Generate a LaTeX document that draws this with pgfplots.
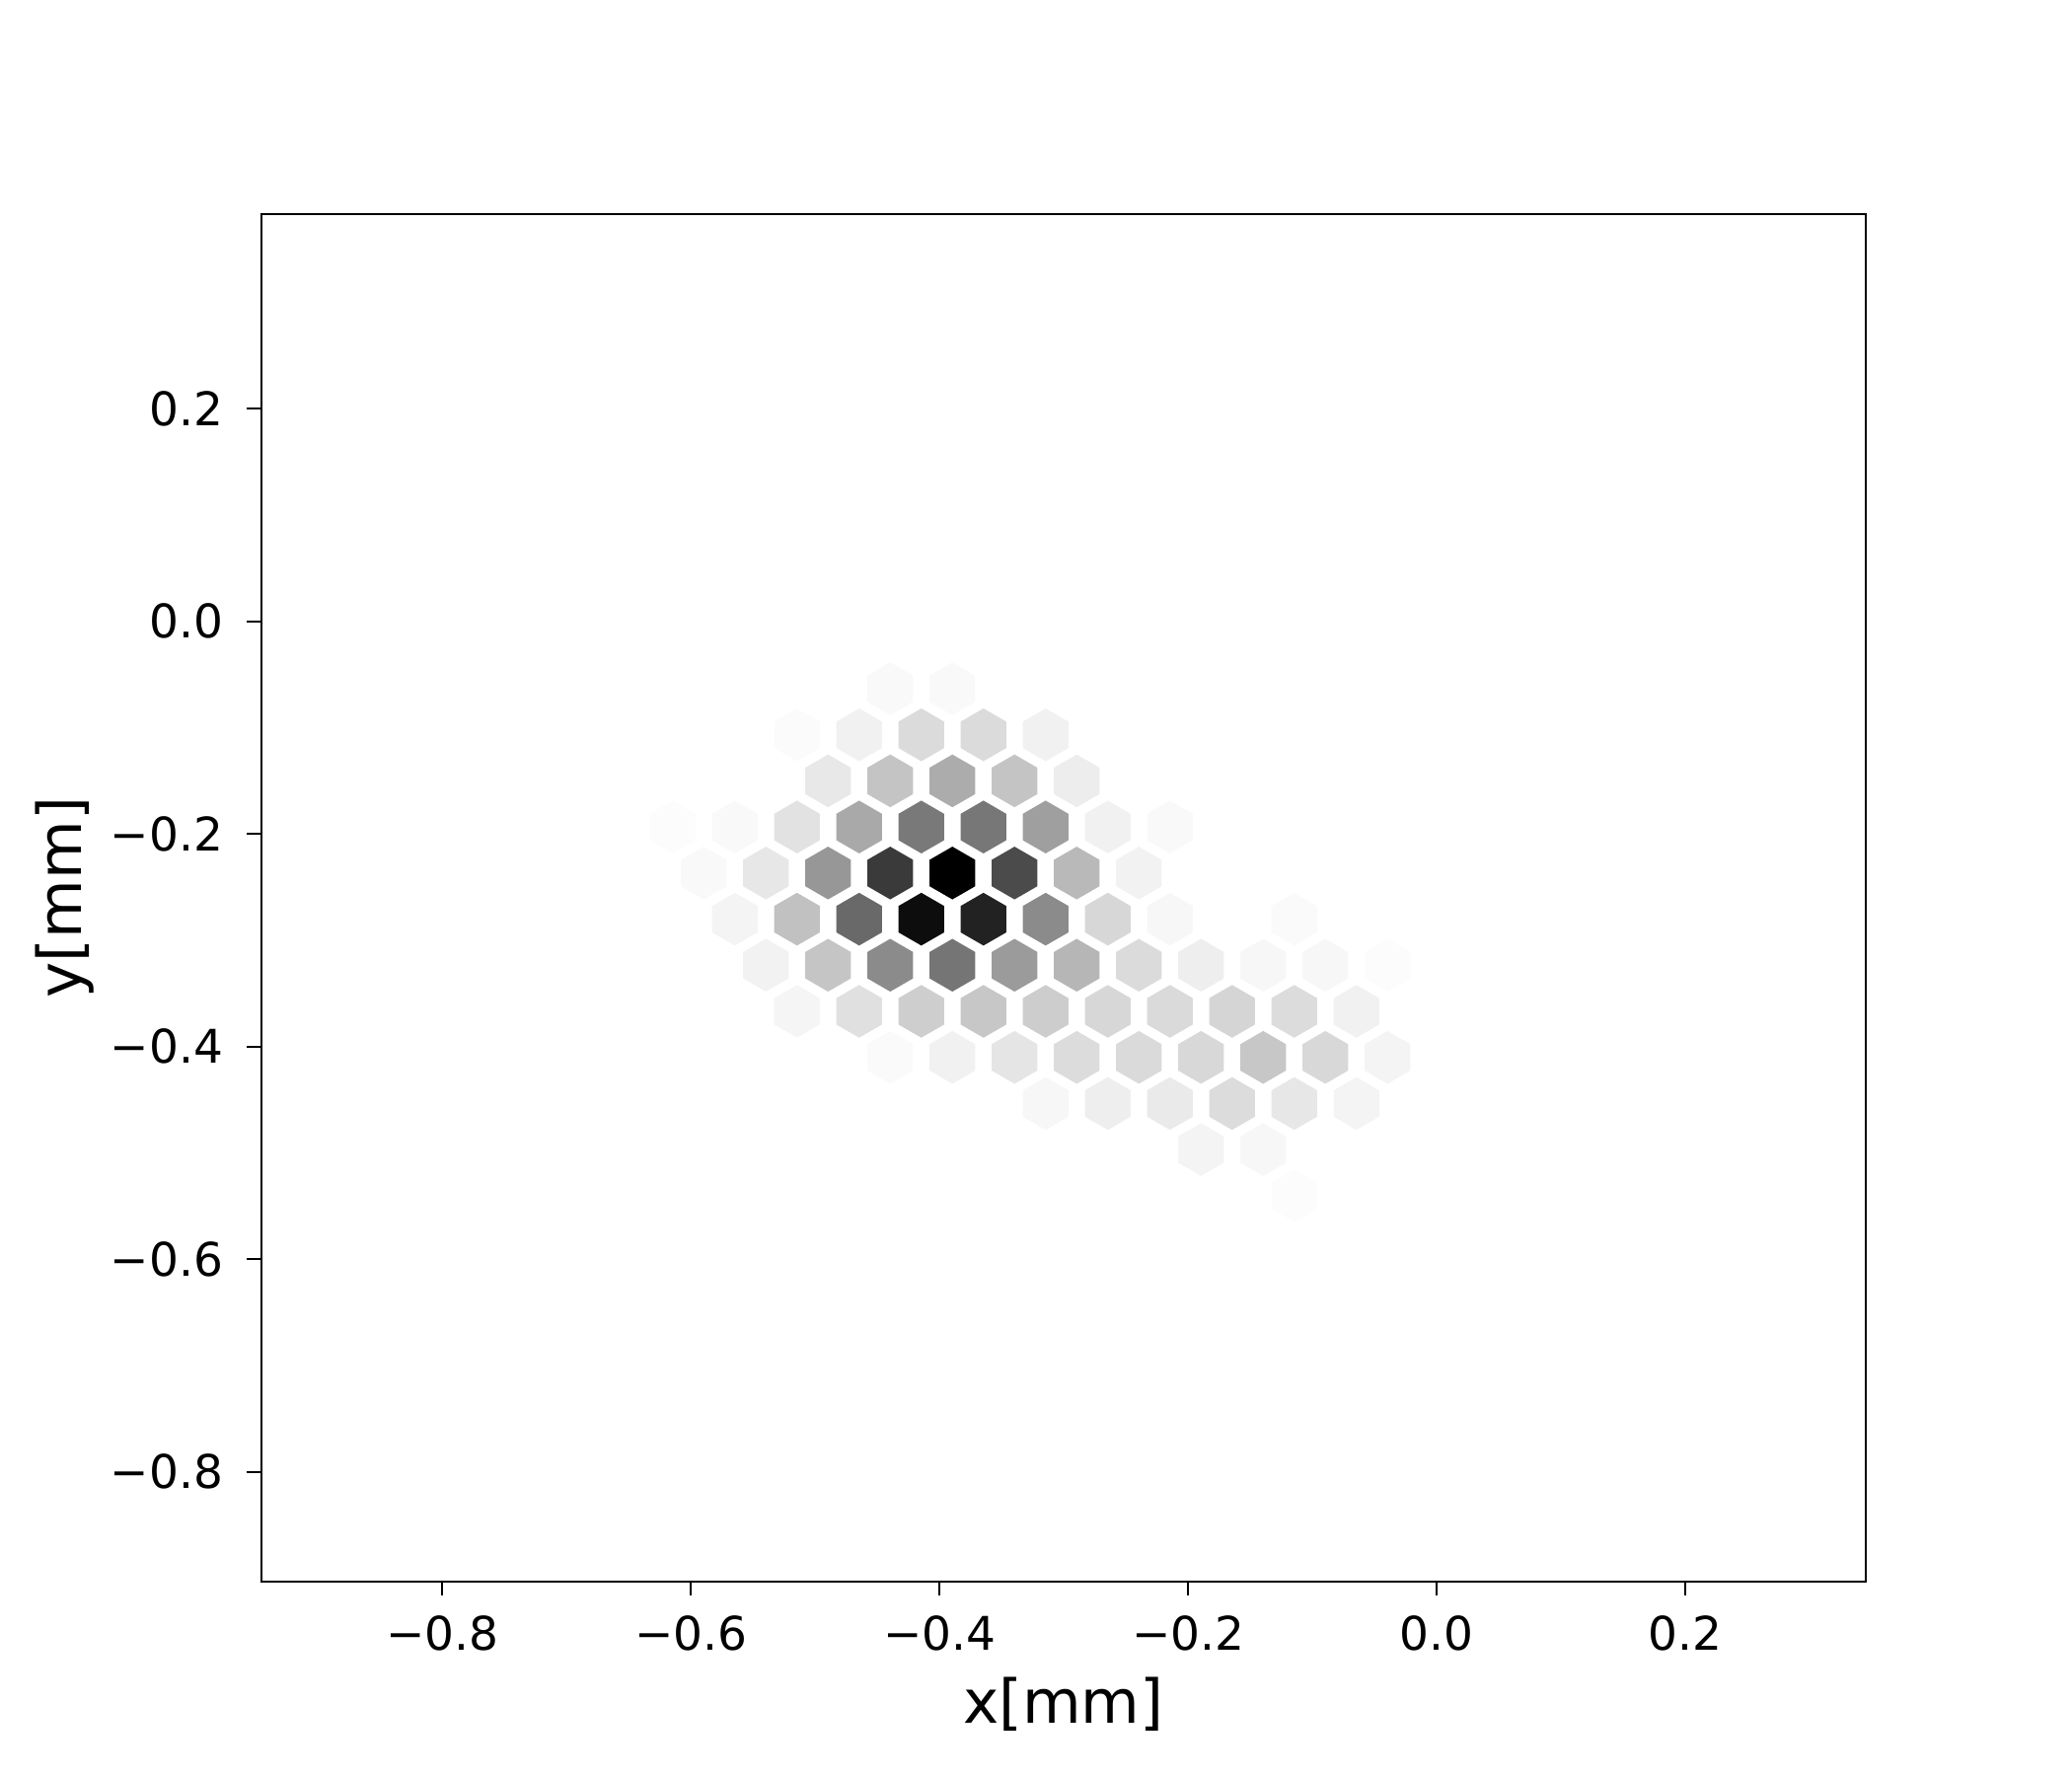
\documentclass[border=0pt]{standalone}
\usepackage{fontspec}
\setmainfont{DejaVu Sans}
\usepackage{pgfplots}
\usepackage{pgfplotstable}
\pgfplotsset{compat=1.18}

\pgfdeclareplotmark{hexa}{%
  \pgfpathmoveto{\pgfqpoint{0pt}{5.35pt}}%
  \pgfpathlineto{\pgfqpoint{4.63pt}{2.675pt}}%
  \pgfpathlineto{\pgfqpoint{4.63pt}{-2.675pt}}%
  \pgfpathlineto{\pgfqpoint{0pt}{-5.35pt}}%
  \pgfpathlineto{\pgfqpoint{-4.63pt}{-2.675pt}}%
  \pgfpathlineto{\pgfqpoint{-4.63pt}{2.675pt}}%
  \pgfpathclose
  \pgfusepathqfill}

\pgfplotstableread{
x y g
-0.4397 -0.0633 247
-0.3897 -0.0633 247
-0.5147 -0.1067 249
-0.4647 -0.1067 239
-0.4147 -0.1067 217
-0.3647 -0.1067 217
-0.3147 -0.1067 239
-0.4897 -0.1500 230
-0.4397 -0.1500 195
-0.3897 -0.1500 171
-0.3397 -0.1500 195
-0.2897 -0.1500 235
-0.6147 -0.1934 250
-0.5647 -0.1934 247
-0.5147 -0.1934 224
-0.4647 -0.1934 168
-0.4147 -0.1934 120
-0.3647 -0.1934 118
-0.3147 -0.1934 158
-0.2647 -0.1934 239
-0.2147 -0.1934 247
-0.5897 -0.2367 247
-0.5397 -0.2367 229
-0.4897 -0.2367 150
-0.4397 -0.2367 58
-0.3897 -0.2367 0
-0.3397 -0.2367 74
-0.2897 -0.2367 184
-0.2397 -0.2367 240
-0.5647 -0.2801 242
-0.5147 -0.2801 192
-0.4647 -0.2801 104
-0.4147 -0.2801 13
-0.3647 -0.2801 34
-0.3147 -0.2801 138
-0.2647 -0.2801 213
-0.2147 -0.2801 245
-0.1147 -0.2801 248
-0.5397 -0.3234 240
-0.4897 -0.3234 196
-0.4397 -0.3234 138
-0.3897 -0.3234 116
-0.3397 -0.3234 154
-0.2897 -0.3234 181
-0.2397 -0.3234 217
-0.1897 -0.3234 236
-0.1397 -0.3234 245
-0.0897 -0.3234 245
-0.0397 -0.3234 250
-0.5147 -0.3668 243
-0.4647 -0.3668 222
-0.4147 -0.3668 205
-0.3647 -0.3668 198
-0.3147 -0.3668 204
-0.2647 -0.3668 213
-0.2147 -0.3668 216
-0.1647 -0.3668 212
-0.1147 -0.3668 218
-0.0647 -0.3668 239
-0.4397 -0.4101 248
-0.3897 -0.4101 239
-0.3397 -0.4101 227
-0.2897 -0.4101 218
-0.2397 -0.4101 216
-0.1897 -0.4101 214
-0.1397 -0.4101 198
-0.0897 -0.4101 214
-0.0397 -0.4101 242
-0.3147 -0.4535 245
-0.2647 -0.4535 236
-0.2147 -0.4535 232
-0.1647 -0.4535 218
-0.1147 -0.4535 229
-0.0647 -0.4535 242
-0.1897 -0.4968 242
-0.1397 -0.4968 245
-0.1147 -0.5402 250
}\hexdata

\begin{document}
\begin{tikzpicture}
\path[use as bounding box] (-53pt,-39.46pt) rectangle (367pt,320.54pt);
\begin{axis}[
  at={(0pt,0pt)}, anchor=south west,
  scale only axis,
  width=325.14pt, height=277.2pt,
  xmin=-0.9455, xmax=0.3448,
  ymin=-0.903, ymax=0.3834,
  axis line style={line width=0.45pt},
  tick style={line width=0.45pt, black},
  tick align=outside,
  major tick length=2.9pt,
  xtick={-0.8,-0.6,-0.4,-0.2,0.0,0.2},
  xticklabels={−0.8,−0.6,−0.4,−0.2,0.0,0.2},
  ytick={-0.8,-0.6,-0.4,-0.2,0.0,0.2},
  yticklabels={−0.8,−0.6,−0.4,−0.2,0.0,0.2},
  xtick pos=lower, ytick pos=left,
  minor tick num=0,
  ticklabel style={font=\fontsize{9.4}{11}\selectfont, inner sep=0pt},
  xticklabel style={anchor=north},
  yticklabel style={anchor=east},
  xticklabel shift=3.8pt,
  yticklabel shift=4.7pt,
  every axis x label/.style={at={(axis description cs:0.5,-0.0902)}, anchor=center, font=\fontsize{12.25}{15}\selectfont},
  every axis y label/.style={at={(axis description cs:-0.1226,0.5)}, anchor=center, rotate=90, font=\fontsize{12.25}{15}\selectfont},
  xlabel={x[mm]},
  ylabel={y[mm]},
  colormap={greys}{gray(0cm)=(0); gray(1cm)=(1)},
  point meta min=0, point meta max=255,
]
\addplot[scatter, only marks, mark=hexa,
  scatter/use mapped color={draw=mapped color, fill=mapped color},
  point meta=\thisrow{g}] table[x=x, y=y] {\hexdata};
\end{axis}
\end{tikzpicture}
\end{document}
